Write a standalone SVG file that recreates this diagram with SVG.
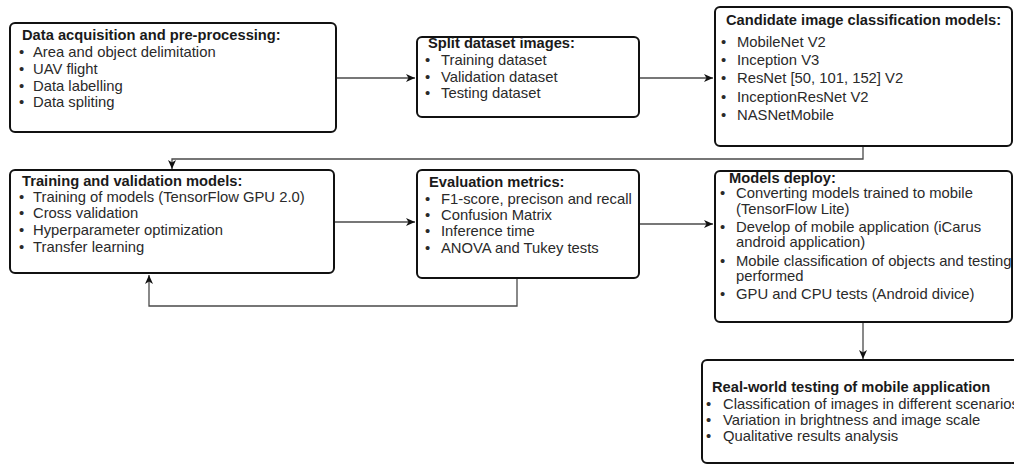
<svg xmlns="http://www.w3.org/2000/svg" width="1014" height="464" viewBox="0 0 1014 464">
<style>
.box{fill:#fff;stroke:#111;stroke-width:2}
.t{font-family:"Liberation Sans",Arial,sans-serif;font-size:14.7px;fill:#1a1a1a;font-weight:bold}
.i{font-family:"Liberation Sans",Arial,sans-serif;font-size:14.8px;fill:#2a2a2a}
.c{fill:none;stroke:#4a4a4a;stroke-width:1.3}
</style>
<defs>
<marker id="a" markerWidth="10" markerHeight="10" refX="9" refY="5" orient="auto" markerUnits="userSpaceOnUse">
<path d="M0,1 L9,5 L0,9 L2.5,5 z" fill="#111"/>
</marker>
</defs>
<g id="connectors">
<path class="c" d="M336,78 H415" marker-end="url(#a)"/>
<path class="c" d="M639,78 H713" marker-end="url(#a)"/>
<path class="c" d="M863,146 V159 H172 V169" marker-end="url(#a)"/>
<path class="c" d="M334,222 H415" marker-end="url(#a)"/>
<path class="c" d="M639,224 H713" marker-end="url(#a)"/>
<path class="c" d="M517,278 V306 H149 V275" marker-end="url(#a)"/>
<path class="c" d="M863,322 V359" marker-end="url(#a)"/>
</g>
<g id="n1">
<rect class="box" x="10" y="23" width="326" height="109" rx="5"/>
<text class="t" x="22" y="40">Data acquisition and pre-processing:</text>
<text class="i" x="19" y="57">•</text><text class="i" x="33" y="57">Area and object delimitation</text>
<text class="i" x="19" y="74">•</text><text class="i" x="33" y="74">UAV flight</text>
<text class="i" x="19" y="91">•</text><text class="i" x="33" y="91">Data labelling</text>
<text class="i" x="19" y="107">•</text><text class="i" x="33" y="107">Data spliting</text>
</g>
<g id="n2">
<rect class="box" x="417" y="37" width="222" height="80" rx="5"/>
<text class="t" x="428" y="48">Split dataset images:</text>
<text class="i" x="425" y="65">•</text><text class="i" x="441" y="65">Training dataset</text>
<text class="i" x="425" y="82">•</text><text class="i" x="441" y="82">Validation dataset</text>
<text class="i" x="425" y="98">•</text><text class="i" x="441" y="98">Testing dataset</text>
</g>
<g id="n3">
<rect class="box" x="715" y="7" width="297" height="139" rx="5"/>
<text class="t" x="726" y="25">Candidate image classification models:</text>
<text class="i" x="721" y="46.5">•</text><text class="i" x="737" y="46.5">MobileNet V2</text>
<text class="i" x="721" y="64.8">•</text><text class="i" x="737" y="64.8">Inception V3</text>
<text class="i" x="721" y="83.2">•</text><text class="i" x="737" y="83.2">ResNet [50, 101, 152] V2</text>
<text class="i" x="721" y="101.6">•</text><text class="i" x="737" y="101.6">InceptionResNet V2</text>
<text class="i" x="721" y="120">•</text><text class="i" x="737" y="120">NASNetMobile</text>
</g>
<g id="n4">
<rect class="box" x="10" y="170" width="324" height="103" rx="5"/>
<text class="t" x="22" y="186">Training and validation models:</text>
<text class="i" x="19" y="202">•</text><text class="i" x="33" y="202">Training of models (TensorFlow GPU 2.0)</text>
<text class="i" x="19" y="218">•</text><text class="i" x="33" y="218">Cross validation</text>
<text class="i" x="19" y="235">•</text><text class="i" x="33" y="235">Hyperparameter optimization</text>
<text class="i" x="19" y="252">•</text><text class="i" x="33" y="252">Transfer learning</text>
</g>
<g id="n5">
<rect class="box" x="417" y="170" width="222" height="108" rx="5"/>
<text class="t" x="429" y="187">Evaluation metrics:</text>
<text class="i" x="425" y="204">•</text><text class="i" x="441" y="204">F1-score, precison and recall</text>
<text class="i" x="425" y="220">•</text><text class="i" x="441" y="220">Confusion Matrix</text>
<text class="i" x="425" y="236">•</text><text class="i" x="441" y="236">Inference time</text>
<text class="i" x="425" y="253">•</text><text class="i" x="441" y="253">ANOVA and Tukey tests</text>
</g>
<g id="n6">
<rect class="box" x="715" y="171" width="297" height="151" rx="5"/>
<text class="t" x="729" y="183">Models deploy:</text>
<text class="i" x="720" y="198">•</text><text class="i" x="736" y="198">Converting models trained to mobile</text>
<text class="i" x="736" y="214">(TensorFlow Lite)</text>
<text class="i" x="720" y="232">•</text><text class="i" x="736" y="232">Develop of mobile application (iCarus</text>
<text class="i" x="736" y="247">android application)</text>
<text class="i" x="720" y="266">•</text><text class="i" x="736" y="266">Mobile classification of objects and testing</text>
<text class="i" x="736" y="281">performed</text>
<text class="i" x="720" y="299">•</text><text class="i" x="736" y="299">GPU and CPU tests (Android divice)</text>
</g>
<g id="n7">
<rect class="box" x="702" y="360" width="330" height="103" rx="5"/>
<text class="t" x="712" y="392">Real-world testing of mobile application</text>
<text class="i" x="706" y="409">•</text><text class="i" x="723" y="409">Classification of images in different scenarios</text>
<text class="i" x="706" y="425">•</text><text class="i" x="723" y="425">Variation in brightness and image scale</text>
<text class="i" x="706" y="441">•</text><text class="i" x="723" y="441">Qualitative results analysis</text>
</g>
</svg>
